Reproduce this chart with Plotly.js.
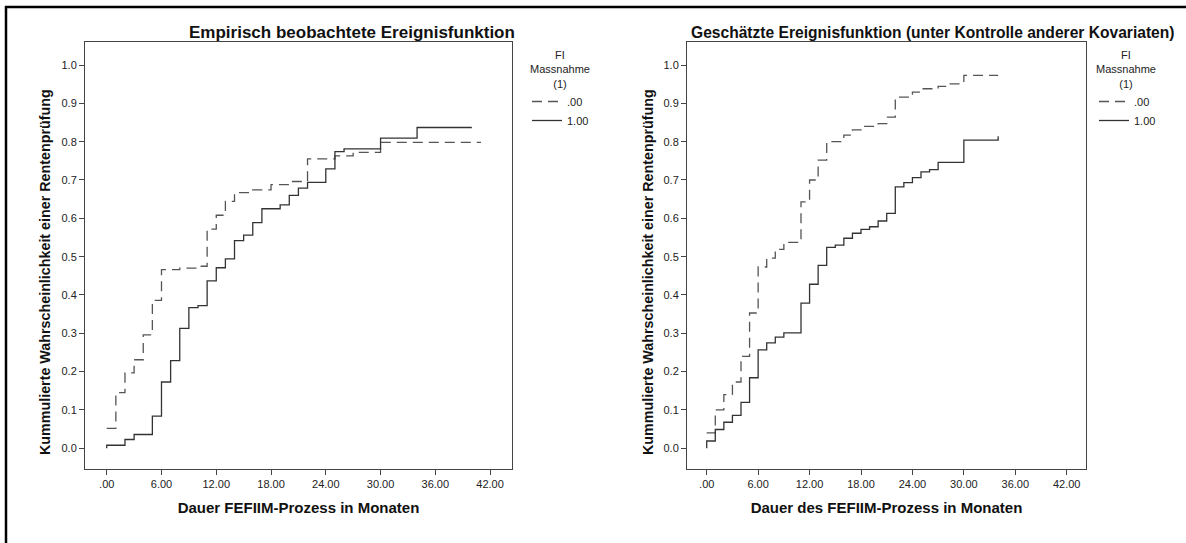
<!DOCTYPE html>
<html>
<head>
<meta charset="utf-8">
<script src="https://cdn.plot.ly/plotly-3.0.1.min.js"></script>
<style>
html,body{margin:0;padding:0;background:#fff;}
#chart{width:1186px;height:543px;}
</style>
</head>
<body>
<div id="chart"></div>
<script>
// ---- Data ----
// Left panel: Empirisch beobachtete Ereignisfunktion
const leftTimes00 = [0, 1, 2, 3, 4, 5, 6, 8, 10, 11, 12, 13, 14, 16, 18, 20, 22, 25, 27, 30, 41];
const leftProb00  = [0.052, 0.145, 0.197, 0.231, 0.296, 0.386, 0.466, 0.470, 0.475, 0.572, 0.608, 0.644, 0.667, 0.674, 0.688, 0.696, 0.755, 0.763, 0.772, 0.798, 0.798];
const leftTimes100 = [0, 0, 2, 3, 5, 6, 7, 8, 9, 10, 11, 12, 13, 14, 15, 16, 17, 19, 20, 21, 22, 24, 25, 26, 30, 34, 40];
const leftProb100  = [0.000, 0.008, 0.023, 0.036, 0.084, 0.173, 0.229, 0.313, 0.367, 0.372, 0.437, 0.471, 0.494, 0.542, 0.556, 0.589, 0.625, 0.635, 0.660, 0.679, 0.694, 0.729, 0.774, 0.781, 0.809, 0.837, 0.837];

// Right panel: Geschätzte Ereignisfunktion
const rightTimes00 = [0, 1, 2, 3, 4, 5, 6, 7, 8, 9, 11, 12, 13, 14, 16, 17, 18, 20, 21, 22, 24, 25, 27, 28, 30, 34];
const rightProb00  = [0.040, 0.100, 0.140, 0.173, 0.240, 0.353, 0.473, 0.496, 0.519, 0.537, 0.643, 0.700, 0.752, 0.800, 0.817, 0.831, 0.840, 0.847, 0.864, 0.916, 0.929, 0.938, 0.944, 0.951, 0.973, 0.973];
const rightTimes100 = [0, 0, 1, 2, 3, 4, 5, 6, 7, 8, 9, 11, 12, 13, 14, 15, 16, 17, 18, 19, 20, 21, 22, 23, 24, 25, 26, 27, 30, 34, 34];
const rightProb100  = [0.000, 0.019, 0.049, 0.068, 0.086, 0.120, 0.184, 0.257, 0.275, 0.290, 0.301, 0.379, 0.428, 0.477, 0.524, 0.530, 0.548, 0.561, 0.571, 0.578, 0.593, 0.613, 0.682, 0.693, 0.706, 0.721, 0.727, 0.746, 0.804, 0.804, 0.814];

const groupNames = ['.00', '1.00'];
const xTickVals = [0, 6, 12, 18, 24, 30, 36, 42];
const xTickText = ['.00', '6.00', '12.00', '18.00', '24.00', '30.00', '36.00', '42.00'];
const yTickVals = [0, 0.1, 0.2, 0.3, 0.4, 0.5, 0.6, 0.7, 0.8, 0.9, 1.0];
const yTickText = ['0.0', '0.1', '0.2', '0.3', '0.4', '0.5', '0.6', '0.7', '0.8', '0.9', '1.0'];

const titleLeft = 'Empirisch beobachtete Ereignisfunktion';
const titleRight = 'Geschätzte Ereignisfunktion (unter Kontrolle anderer Kovariaten)';
const xTitleLeft = 'Dauer FEFIIM-Prozess in Monaten';
const xTitleRight = 'Dauer des FEFIIM-Prozess in Monaten';
const yTitle = 'Kummulierte Wahrscheinlichkeit einer Rentenprüfung';
const legendTitle = 'FI<br>Massnahme<br>(1)';

// ---- Styles ----
const FONT = 'Arial, "Liberation Sans", sans-serif';
const W = 1186, H = 543;
const dashStyle = {color: '#555555', width: 1.3, dash: '10px,6px', shape: 'hv'};
const solidStyle = {color: '#333333', width: 1.3, shape: 'hv'};

const traces = [
  {x: leftTimes00, y: leftProb00, mode: 'lines', line: dashStyle, name: groupNames[0], xaxis: 'x', yaxis: 'y', legend: 'legend', hoverinfo: 'skip'},
  {x: leftTimes100, y: leftProb100, mode: 'lines', line: solidStyle, name: groupNames[1], xaxis: 'x', yaxis: 'y', legend: 'legend', hoverinfo: 'skip'},
  {x: rightTimes00, y: rightProb00, mode: 'lines', line: dashStyle, name: groupNames[0], xaxis: 'x2', yaxis: 'y2', legend: 'legend2', hoverinfo: 'skip'},
  {x: rightTimes100, y: rightProb100, mode: 'lines', line: solidStyle, name: groupNames[1], xaxis: 'x2', yaxis: 'y2', legend: 'legend2', hoverinfo: 'skip'}
];

function xAxis(domain, range, title, anchor) {
  return {
    domain: domain, range: range, anchor: anchor,
    tickvals: xTickVals, ticktext: xTickText,
    ticks: 'outside', ticklen: 5, tickwidth: 1, tickcolor: '#444',
    tickfont: {family: FONT, size: 11, color: '#222'},
    showline: true, mirror: true, linecolor: '#444', linewidth: 1,
    showgrid: false, zeroline: false,
    title: {text: '<b>' + title + '</b>', font: {family: FONT, size: 15, color: '#111'}, standoff: 13}
  };
}
function yAxis(domain, range, anchor) {
  return {
    domain: domain, range: range, anchor: anchor,
    tickvals: yTickVals, ticktext: yTickText,
    ticks: 'outside', ticklen: 5, tickwidth: 1, tickcolor: '#444',
    tickfont: {family: FONT, size: 11, color: '#222'},
    showline: true, mirror: true, linecolor: '#444', linewidth: 1,
    showgrid: false, zeroline: false
  };
}
function legendCfg(xl) {
  return {
    x: xl / W, xanchor: 'left', y: 1 - 87 / H, yanchor: 'top',
    bgcolor: 'rgba(0,0,0,0)', borderwidth: 0,
    font: {family: FONT, size: 11, color: '#222'},
    itemwidth: 30, traceorder: 'normal'
  };
}

function textAnn(text, xpx, ypx, size, bold, angle) {
  return {
    text: bold ? '<b>' + text + '</b>' : text,
    xref: 'paper', yref: 'paper', x: xpx / W, y: 1 - ypx / H,
    xanchor: 'center', yanchor: 'middle', showarrow: false, align: 'center',
    textangle: angle || 0,
    font: {family: FONT, size: size, color: bold ? '#111' : '#222'}
  };
}

const yDom = [1 - 469 / H, 1 - 42 / H];
const layout = {
  width: W, height: H,
  margin: {l: 0, r: 0, t: 0, b: 0},
  paper_bgcolor: '#fff', plot_bgcolor: '#fff',
  font: {family: FONT},
  showlegend: true,
  xaxis: xAxis([85 / W, 512 / W], [-2.38, 44.4], xTitleLeft, 'y'),
  yaxis: yAxis(yDom, [-0.054, 1.06], 'x'),
  xaxis2: xAxis([687 / W, 1086 / W], [-2.3, 44.25], xTitleRight, 'y2'),
  yaxis2: yAxis(yDom, [-0.054, 1.06], 'x2'),
  legend: legendCfg(527),
  legend2: legendCfg(1094),
  annotations: [
    textAnn(titleLeft, 352, 33, 17, true),
    textAnn(titleRight, 933, 33, 15.6, true),
    textAnn(yTitle, 45, 272, 14.3, true, -90),
    textAnn(yTitle, 648, 272, 14.3, true, -90),
    textAnn(legendTitle, 560, 69, 11, false),
    textAnn(legendTitle, 1126, 69, 11, false)
  ],
  shapes: [
    {type: 'line', xref: 'paper', yref: 'paper', x0: 5 / W, x1: 1, y0: 1 - 7 / H, y1: 1 - 7 / H, line: {color: '#000', width: 2.5}},
    {type: 'line', xref: 'paper', yref: 'paper', x0: 6 / W, x1: 6 / W, y0: 0, y1: 1 - 6 / H, line: {color: '#000', width: 2.5}}
  ]
};

Plotly.newPlot('chart', traces, layout, {displayModeBar: false, staticPlot: true});
</script>
</body>
</html>
